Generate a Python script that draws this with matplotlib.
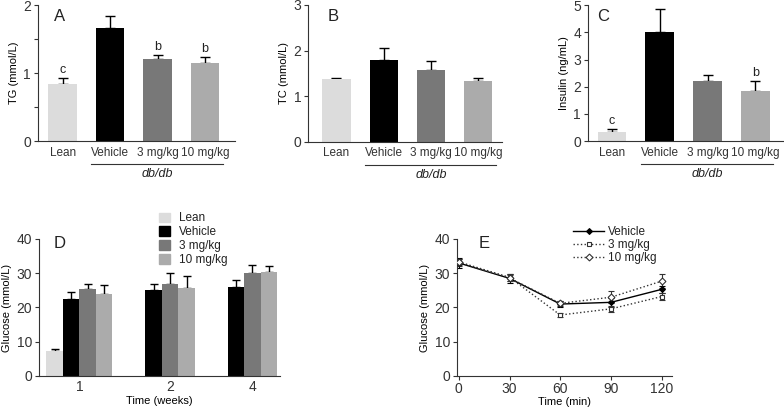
import numpy as np
import matplotlib
matplotlib.use("Agg")
import matplotlib.pyplot as plt
from matplotlib.ticker import MultipleLocator
from matplotlib.transforms import blended_transform_factory

plt.rcParams['font.family'] = ['Liberation Sans', 'DejaVu Sans']
plt.rcParams['font.size'] = 8
plt.rcParams['text.color'] = '#222222'
plt.rcParams['axes.edgecolor'] = '#333333'
plt.rcParams['xtick.color'] = '#333333'
plt.rcParams['ytick.color'] = '#333333'

# ---- data ----
groups = ['Lean', 'Vehicle', '3 mg/kg', '10 mg/kg']
bar_colors = ['#dcdcdc', '#000000', '#787878', '#ababab']

tg_mean = [0.84, 1.66, 1.21, 1.15]
tg_err = [0.09, 0.18, 0.06, 0.09]
tg_marks = ['c', '', 'b', 'b']

tc_mean = [1.37, 1.80, 1.57, 1.33]
tc_err = [0.03, 0.25, 0.20, 0.07]
tc_marks = ['', '', '', '']

ins_mean = [0.33, 4.02, 2.22, 1.83]
ins_err = [0.10, 0.84, 0.20, 0.38]
ins_marks = ['c', '', '', 'b']

weeks = ['1', '2', '4']
glu_lean = [7.4, None, None]
glu_lean_err = [0.5, None, None]
glu_vehicle = [22.4, 25.1, 25.9]
glu_vehicle_err = [2.0, 1.8, 2.2]
glu_3mg = [25.3, 26.8, 30.0]
glu_3mg_err = [1.6, 3.2, 2.4]
glu_10mg = [23.9, 25.6, 30.5]
glu_10mg_err = [2.8, 3.5, 1.5]

ogtt_time = [0, 30, 60, 90, 120]
ogtt_vehicle = [33.0, 28.5, 21.0, 21.5, 25.3]
ogtt_vehicle_err = [1.5, 1.3, 0.9, 1.4, 1.0]
ogtt_3mg = [33.3, 28.8, 17.8, 19.6, 23.2]
ogtt_3mg_err = [0.8, 1.0, 0.7, 0.8, 0.9]
ogtt_10mg = [33.2, 28.6, 21.2, 23.0, 27.7]
ogtt_10mg_err = [1.0, 1.0, 0.8, 1.8, 2.0]

fig = plt.figure(figsize=(7.84, 4.09), dpi=100)


def clean(ax):
    ax.spines['top'].set_visible(False)
    ax.spines['right'].set_visible(False)
    ax.tick_params(axis='y', direction='out', length=3, width=0.8, labelsize=10, pad=2)


def bar_panel(rect, means, errs, marks, ylim, ystep, minor, ylabel, letter, lx, xlim):
    ax = fig.add_axes(rect)
    x = np.arange(len(groups))
    ax.bar(x, means, width=0.6, color=bar_colors, zorder=2)
    ax.errorbar(x, means, yerr=[np.zeros(len(errs)), errs], fmt='none',
                ecolor='black', elinewidth=1, capsize=3.5, capthick=1, zorder=1)
    for xi, m, e, t in zip(x, means, errs, marks):
        if t:
            ax.text(xi, m + e + ylim[1] * 0.015, t, ha='center', va='bottom', fontsize=9)
    ax.set_ylim(*ylim)
    ax.set_xlim(*xlim)
    ax.yaxis.set_major_locator(MultipleLocator(ystep))
    if minor:
        ax.yaxis.set_minor_locator(MultipleLocator(minor))
        ax.tick_params(axis='y', which='minor', length=3, width=0.8)
    ax.set_xticks(x)
    ax.set_xticklabels(groups, fontsize=8.5)
    ax.tick_params(axis='x', length=0, pad=4)
    ax.set_ylabel(ylabel, fontsize=8, labelpad=3)
    clean(ax)
    ax.text(lx, 0.97, letter, transform=ax.transAxes, fontsize=12, va='top')
    tr = blended_transform_factory(ax.transData, ax.transAxes)
    ax.plot([0.6, 3.38], [-0.17, -0.17], transform=tr, color='#333333', lw=0.8, clip_on=False)
    ax.text(2.0, -0.2, 'db/db', transform=tr, ha='center', va='top', fontsize=9, style='italic')
    return ax


bar_panel([0.0485, 0.655, 0.251, 0.3325], tg_mean, tg_err, tg_marks,
          (0, 2), 1, 0.5, 'TG (mmol/L)', 'A', 0.08, (-0.52, 3.63))
bar_panel([0.393, 0.653, 0.247, 0.335], tc_mean, tc_err, tc_marks,
          (0, 3), 1, None, 'TC (mmol/L)', 'B', 0.1, (-0.6, 3.5))
bar_panel([0.75, 0.655, 0.25, 0.3325], ins_mean, ins_err, ins_marks,
          (0, 5), 1, None, 'Insulin (ng/mL)', 'C', 0.045, (-0.5, 3.6))

# ---- D ----
axd = fig.add_axes([0.0497, 0.0807, 0.307, 0.335])
w = 0.2
centers = np.array([0.0, 1.0, 2.0])
series = [(glu_lean, glu_lean_err), (glu_vehicle, glu_vehicle_err),
          (glu_3mg, glu_3mg_err), (glu_10mg, glu_10mg_err)]
labels = ['Lean', 'Vehicle', '3 mg/kg', '10 mg/kg']
handles = []
for k, (vals, errs) in enumerate(series):
    for g in range(len(weeks)):
        if vals[g] is None:
            continue
        xpos = centers[g] + (k - 1.5) * w
        axd.bar(xpos, vals[g], width=w, color=bar_colors[k], zorder=2)
        axd.errorbar(xpos, vals[g], yerr=[[0], [errs[g]]], fmt='none', ecolor='black',
                     elinewidth=1, capsize=3, capthick=1, zorder=1)
    handles.append(plt.Rectangle((0, 0), 1, 1, color=bar_colors[k]))
tick_pos = [centers[0], centers[1] + 0.5 * w, centers[2] + 0.5 * w]
axd.set_xticks(tick_pos)
axd.set_xticklabels(weeks, fontsize=10)
axd.set_xlim(-0.49, 2.43)
axd.set_ylim(0, 40)
axd.yaxis.set_major_locator(MultipleLocator(10))
axd.tick_params(axis='x', length=0, pad=3)
axd.set_xlabel('Time (weeks)', fontsize=8, labelpad=1)
axd.set_ylabel('Glucose (mmol/L)', fontsize=8, labelpad=3)
clean(axd)
axd.text(0.06, 1.02, 'D', transform=axd.transAxes, fontsize=12, va='top')
fig.legend(handles, labels, loc='upper left', bbox_to_anchor=(0.197, 0.492),
           frameon=False, fontsize=8.5, handlelength=0.9, handleheight=0.9,
           handletextpad=0.8, labelspacing=0.15, borderaxespad=0)

# ---- E ----
axe = fig.add_axes([0.583, 0.0807, 0.274, 0.335])
styles = [
    (ogtt_vehicle, ogtt_vehicle_err, 'Vehicle', dict(color='black', ls='-', marker='D', ms=3, mfc='black')),
    (ogtt_3mg, ogtt_3mg_err, '3 mg/kg', dict(color='#333333', ls=':', marker='s', ms=3.5, mfc='white')),
    (ogtt_10mg, ogtt_10mg_err, '10 mg/kg', dict(color='#333333', ls=':', marker='D', ms=3.5, mfc='white')),
]
leg_handles = []
for vals, errs, lab, st in styles:
    axe.errorbar(ogtt_time, vals, yerr=errs, fmt='none', ecolor=st['color'],
                 elinewidth=0.8, capsize=2.5, capthick=0.8, zorder=1)
    ln, = axe.plot(ogtt_time, vals, lw=1, mew=0.8, label=lab, zorder=3, **st)
    leg_handles.append(ln)
axe.set_xlim(-1, 126)
axe.set_ylim(0, 40)
axe.set_xticks(ogtt_time)
axe.yaxis.set_major_locator(MultipleLocator(10))
axe.tick_params(axis='x', direction='out', length=3, width=0.8, labelsize=10, pad=1)
axe.set_xlabel('Time (min)', fontsize=8, labelpad=1)
axe.set_ylabel('Glucose (mmol/L)', fontsize=8, labelpad=3)
clean(axe)
axe.text(0.1, 1.02, 'E', transform=axe.transAxes, fontsize=12, va='top')
axe.legend(handles=leg_handles, loc='upper left', bbox_to_anchor=(0.52, 1.13), frameon=False,
           fontsize=8.5, handlelength=2.6, handletextpad=0.3, labelspacing=0.1, borderaxespad=0)

fig.savefig('out.png', dpi=100)
